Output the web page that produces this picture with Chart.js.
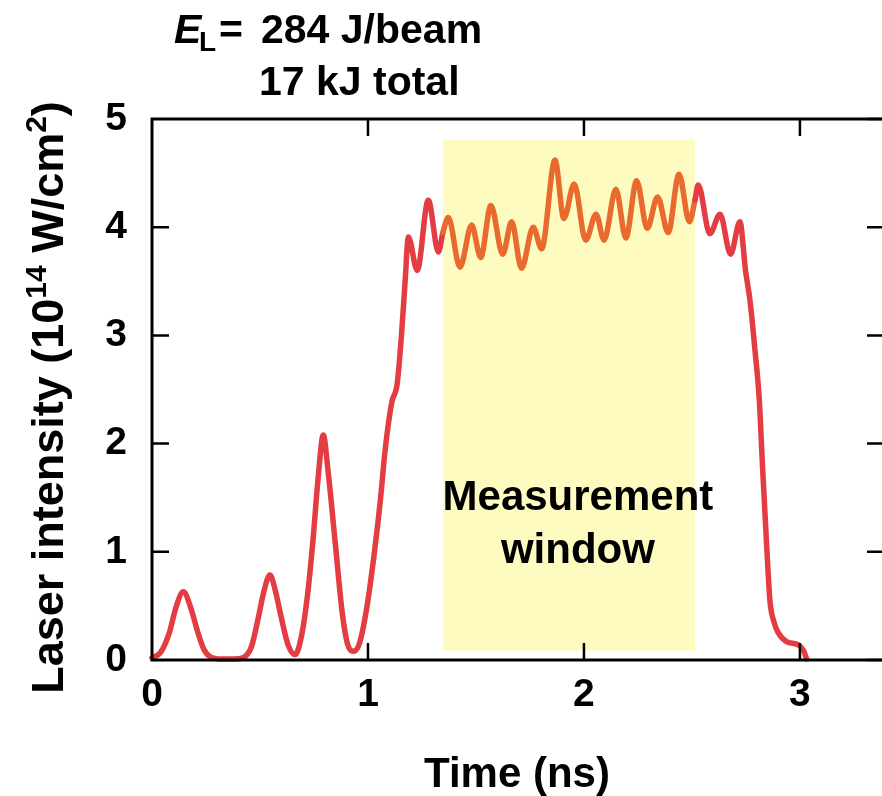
<!DOCTYPE html>
<html><head><meta charset="utf-8">
<script src="https://cdn.jsdelivr.net/npm/chart.js@4/dist/chart.umd.min.js"></script>
<style>html,body{margin:0;padding:0;background:#fff;overflow:hidden}canvas{display:block}</style>
</head><body>
<canvas id="c" width="882" height="796"></canvas>
<script>
// ---- data ----
const timeNs = [
  0, 0.04, 0.08, 0.11, 0.145, 0.18, 0.21, 0.24, 0.27, 0.32,
  0.38, 0.42, 0.46, 0.49, 0.52, 0.546, 0.57, 0.60, 0.63, 0.662,
  0.69, 0.72, 0.745, 0.77, 0.793, 0.815, 0.85, 0.88, 0.905, 0.932,
  0.96, 0.995, 1.03, 1.056, 1.08, 1.11, 1.135, 1.155, 1.172, 1.187,
  1.228, 1.279, 1.326, 1.347, 1.372, 1.426, 1.480, 1.522, 1.569, 1.624,
  1.665, 1.711, 1.765, 1.804, 1.866, 1.907, 1.955, 2.008, 2.056, 2.093,
  2.148, 2.194, 2.244, 2.293, 2.341, 2.390, 2.440, 2.488, 2.514, 2.529,
  2.583, 2.630, 2.679, 2.722, 2.748, 2.769, 2.792, 2.812, 2.827, 2.843,
  2.861, 2.88, 2.90, 2.938, 2.992, 3.016, 3.031
];
const intensity = [
  0.02, 0.07, 0.25, 0.48, 0.63, 0.48, 0.27, 0.10, 0.03, 0.01,
  0.01, 0.02, 0.12, 0.37, 0.65, 0.785, 0.65, 0.38, 0.14, 0.05,
  0.20, 0.60, 1.10, 1.70, 2.08, 1.75, 1.05, 0.45, 0.15, 0.08,
  0.15, 0.49, 1.00, 1.45, 1.95, 2.38, 2.55, 3.00, 3.50, 3.91,
  3.60, 4.25, 3.77, 3.95, 4.09, 3.63, 4.02, 3.72, 4.20, 3.75,
  4.05, 3.62, 4.00, 3.80, 4.62, 4.08, 4.40, 3.88, 4.12, 3.88,
  4.35, 3.90, 4.43, 3.99, 4.28, 3.95, 4.49, 4.05, 4.25, 4.39,
  3.94, 4.12, 3.75, 4.05, 3.60, 3.32, 2.86, 2.40, 1.78, 1.17,
  0.55, 0.35, 0.25, 0.17, 0.14, 0.09, 0.01
];
const xTickValues = [0, 1, 2, 3];
const yTickValues = [0, 1, 2, 3, 4, 5];
const windowTime = [1.347, 2.514];
const windowIntensity = [0.085, 4.81];
const windowLabel = ['Measurement', 'window'];
const xTitle = 'Time (ns)';
const headerLine2 = '17 kJ total';

const FONT = '"Liberation Sans", Arial, Helvetica, sans-serif';
const RED = '#e33c42', ORANGE = '#e96a2e', YELLOW = '#fdfbc0';

function inWindow(a, b) {
  return a >= windowTime[0] - 1e-9 && b <= windowTime[1] + 1e-9;
}

const windowPlugin = {
  id: 'windowBox',
  beforeDatasetsDraw(chart) {
    const { ctx, scales: { x, y } } = chart;
    const x0 = x.getPixelForValue(windowTime[0]), x1 = x.getPixelForValue(windowTime[1]);
    const y0 = y.getPixelForValue(windowIntensity[1]), y1 = y.getPixelForValue(windowIntensity[0]);
    ctx.save();
    ctx.fillStyle = YELLOW;
    ctx.fillRect(x0, y0, x1 - x0, y1 - y0);
    ctx.fillStyle = '#000';
    ctx.font = 'bold 42px ' + FONT;
    ctx.textAlign = 'center';
    ctx.textBaseline = 'alphabetic';
    const cx = (x0 + x1) / 2 + 9;
    ctx.fillText(windowLabel[0], cx, 510);
    ctx.fillText(windowLabel[1], cx, 563);
    ctx.restore();
  }
};

const framePlugin = {
  id: 'frame',
  afterDatasetsDraw(chart) {
    const { ctx, chartArea: a, scales: { x, y } } = chart;
    ctx.save();
    ctx.strokeStyle = '#000';
    ctx.lineWidth = 3;
    ctx.beginPath();
    ctx.moveTo(a.right + 2, a.top); ctx.lineTo(a.left, a.top);
    ctx.lineTo(a.left, a.bottom); ctx.lineTo(a.right + 2, a.bottom);
    ctx.stroke();
    ctx.lineWidth = 2.5;
    const T = 17;
    ctx.beginPath();
    xTickValues.forEach(v => {
      if (v === 0) return;
      const px = x.getPixelForValue(v);
      ctx.moveTo(px, a.bottom); ctx.lineTo(px, a.bottom - T);
      ctx.moveTo(px, a.top); ctx.lineTo(px, a.top + T);
    });
    yTickValues.forEach(v => {
      const py = y.getPixelForValue(v);
      if (v !== 0 && v !== 5) { ctx.moveTo(a.left, py); ctx.lineTo(a.left + T, py); }
      ctx.moveTo(a.right + 2, py); ctx.lineTo(a.right + 2 - T, py);
    });
    ctx.stroke();
    ctx.restore();
  },
  afterDraw(chart) {
    const { ctx, chartArea: a } = chart;
    ctx.save();
    ctx.fillStyle = '#000';
    ctx.textBaseline = 'alphabetic';
    // header
    ctx.textAlign = 'left';
    ctx.font = 'italic bold 41px ' + FONT;
    ctx.fillText('E', 174, 43);
    ctx.font = 'bold 28px ' + FONT;
    ctx.fillText('L', 199, 51);
    ctx.font = 'bold 41px ' + FONT;
    ctx.fillText('=', 219, 43);
    ctx.fillText('284 J/beam', 261, 43);
    ctx.fillText(headerLine2, 259, 95);
    // x title
    ctx.textAlign = 'center';
    ctx.font = 'bold 42px ' + FONT;
    ctx.fillText(xTitle, (a.left + a.right) / 2, 787);
    // y title with superscripts
    const parts = [
      { t: 'Laser intensity (10', s: 45, dy: 0 },
      { t: '14', s: 30, dy: -17 },
      { t: ' W/cm', s: 45, dy: 0 },
      { t: '2', s: 30, dy: -17 },
      { t: ')', s: 45, dy: 0 }
    ];
    let total = 0;
    parts.forEach(p => { ctx.font = 'bold ' + p.s + 'px ' + FONT; p.w = ctx.measureText(p.t).width; total += p.w; });
    ctx.translate(63, (a.top + a.bottom) / 2 + 8);
    ctx.rotate(-Math.PI / 2);
    ctx.textAlign = 'left';
    let cur = -total / 2;
    parts.forEach(p => {
      ctx.font = 'bold ' + p.s + 'px ' + FONT;
      ctx.fillText(p.t, cur, p.dy);
      cur += p.w;
    });
    ctx.restore();
  }
};

const tickFont = { size: 39, weight: 'bold', family: FONT };

new Chart(document.getElementById('c'), {
  type: 'line',
  data: {
    datasets: [{
      data: timeNs.map((t, i) => ({ x: t, y: intensity[i] })),
      borderColor: RED,
      borderWidth: 5.5,
      pointRadius: 0,
      cubicInterpolationMode: 'monotone',
      borderCapStyle: 'round',
      borderJoinStyle: 'round',
      clip: 6,
      segment: {
        borderColor: c => inWindow(c.p0.parsed.x, c.p1.parsed.x) ? ORANGE : RED
      }
    }]
  },
  options: {
    responsive: false,
    animation: false,
    devicePixelRatio: 1,
    layout: { padding: { top: 119, left: 0, right: 0, bottom: 0 } },
    plugins: { legend: { display: false }, tooltip: { enabled: false } },
    scales: {
      x: {
        type: 'linear', min: 0, max: 3.38,
        afterBuildTicks: s => { s.ticks = xTickValues.map(v => ({ value: v })); },
        afterFit: s => { s.height = 136; },
        grid: { display: false, drawTicks: false },
        border: { display: false },
        ticks: { font: tickFont, color: '#000', padding: 12, maxRotation: 0, autoSkip: false }
      },
      y: {
        type: 'linear', min: 0, max: 5,
        afterBuildTicks: s => { s.ticks = yTickValues.map(v => ({ value: v })); },
        afterFit: s => { s.width = 152; },
        grid: { display: false, drawTicks: false },
        border: { display: false },
        ticks: { font: tickFont, color: '#000', padding: 25, autoSkip: false }
      }
    }
  },
  plugins: [windowPlugin, framePlugin]
});
</script>
</body></html>
